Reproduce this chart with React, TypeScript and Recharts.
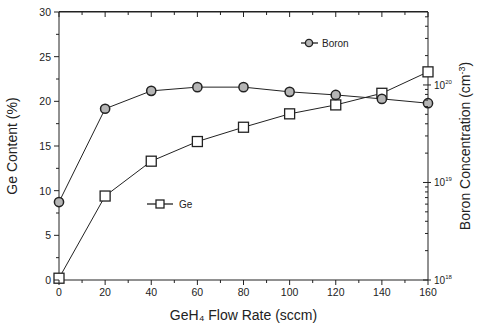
import { ComposedChart, Line, XAxis, YAxis } from 'recharts';

const flowRates = [0, 20, 40, 60, 80, 100, 120, 140, 160];
const geContent = [0.2, 9.4, 13.3, 15.5, 17.1, 18.6, 19.6, 20.9, 23.3];
const boronConc = [6.3e18, 5.7e19, 8.7e19, 9.5e19, 9.5e19, 8.5e19, 7.9e19, 7.2e19, 6.5e19];

const xTicks = [0, 10, 20, 30, 40, 50, 60, 70, 80, 90, 100, 110, 120, 130, 140, 150, 160];
const geTicks = [0, 2.5, 5, 7.5, 10, 12.5, 15, 17.5, 20, 22.5, 25, 27.5, 30];
const boronTicks = [
  1e18, 2e18, 3e18, 4e18, 5e18, 6e18, 7e18, 8e18, 9e18,
  1e19, 2e19, 3e19, 4e19, 5e19, 6e19, 7e19, 8e19, 9e19,
  1e20, 2e20, 3e20, 4e20, 5e20,
];

const data = flowRates.map((f, i) => ({ flow: f, ge: geContent[i], boron: boronConc[i] }));

const FONT = '"Liberation Sans", Arial, sans-serif';
const INK = '#222';

const W = 478;
const H = 330;
const M_TOP = 12;
const LEFT_W = 59;
const RIGHT_W = 50;
const BOTTOM_H = 50;
const PLOT_W = W - LEFT_W - RIGHT_W;
const PLOT_H = H - M_TOP - BOTTOM_H;

// bottom tick also draws the mirrored inward tick on the top frame
const BottomTick = ({ x, y, payload }: any) => {
  const major = payload.value % 20 === 0;
  const top = y - PLOT_H;
  return (
    <g>
      <line x1={x} x2={x} y1={y} y2={y + (major ? 5 : 3)} stroke={INK} />
      <line x1={x} x2={x} y1={top} y2={top + (major ? 5 : 3)} stroke={INK} />
      {major && (
        <text x={x} y={y + 16} textAnchor="middle" fontSize={10.5} fontFamily={FONT} fill={INK}>
          {payload.value}
        </text>
      )}
    </g>
  );
};

const LeftTick = ({ x, y, payload }: any) => {
  const major = payload.value % 5 === 0;
  return (
    <g>
      <line x1={x - (major ? 5 : 3)} x2={x} y1={y} y2={y} stroke={INK} />
      {payload.value === 30 && <line x1={x} x2={x + PLOT_W} y1={y} y2={y} stroke={INK} strokeWidth={1.2} />}
      {major && (
        <text x={x - 8} y={y + 4} textAnchor="end" fontSize={10.5} fontFamily={FONT} fill={INK}>
          {payload.value}
        </text>
      )}
    </g>
  );
};

const RightTick = ({ x, y, payload }: any) => {
  const exp = Math.log10(payload.value);
  const major = Math.abs(exp - Math.round(exp)) < 1e-6;
  return (
    <g>
      <line x1={x - (major ? 5 : 3)} x2={x + (major ? 3 : 0)} y1={y} y2={y} stroke={INK} />
      {major && (
        <text x={x + 6} y={y + 4} fontSize={10} fontFamily={FONT} fill={INK}>
          10
          <tspan dy={-5} fontSize={6}>{Math.round(exp)}</tspan>
        </text>
      )}
    </g>
  );
};

const RightLabel = ({ viewBox }: any) => {
  const cx = viewBox.x + viewBox.width - 8;
  const cy = viewBox.y + viewBox.height / 2;
  return (
    <text x={cx} y={cy} transform={`rotate(-90, ${cx}, ${cy})`} textAnchor="middle" fontSize={14} fontFamily={FONT} fill={INK}>
      Boron Concentration (cm
      <tspan dy={-5} fontSize={9}>-3</tspan>
      <tspan dy={5}>)</tspan>
    </text>
  );
};

const SquareDot = ({ cx, cy }: any) => (
  <rect x={cx - 5} y={cy - 5} width={10} height={10} fill="#fff" stroke={INK} strokeWidth={1.3} />
);

const CircleDot = ({ cx, cy }: any) => (
  <circle cx={cx} cy={cy} r={4.6} fill="#b5b5b5" stroke={INK} strokeWidth={1.5} />
);

const App = () => (
  <div style={{ position: 'absolute', left: 0, top: 0, width: W, height: H }}>
    <ComposedChart width={W} height={H} data={data} margin={{ top: M_TOP, right: 0, left: 0, bottom: 0 }}>
      <XAxis
        dataKey="flow"
        type="number"
        domain={[0, 160]}
        ticks={xTicks}
        interval={0}
        tick={<BottomTick />}
        tickSize={0}
        tickMargin={0}
        height={BOTTOM_H}
        stroke={INK}
        label={{ value: 'GeH₄ Flow Rate (sccm)', position: 'insideBottom', offset: 10, fontSize: 14, fontFamily: FONT, fill: INK }}
      />
      <YAxis
        yAxisId="ge"
        domain={[0, 30]}
        ticks={geTicks}
        interval={0}
        tick={<LeftTick />}
        tickSize={0}
        tickMargin={0}
        width={LEFT_W}
        stroke={INK}
        label={{ value: 'Ge Content (%)', angle: -90, position: 'insideLeft', offset: 12, fontSize: 14, fontFamily: FONT, fill: INK, style: { textAnchor: 'middle' } }}
      />
      <YAxis
        yAxisId="boron"
        orientation="right"
        scale="log"
        domain={[1e18, 5.6e20]}
        allowDataOverflow
        ticks={boronTicks}
        interval={0}
        tick={<RightTick />}
        tickSize={0}
        tickMargin={0}
        width={RIGHT_W}
        stroke={INK}
        label={<RightLabel />}
      />
      <Line
        yAxisId="ge"
        dataKey="ge"
        stroke={INK}
        strokeWidth={1}
        dot={<SquareDot />}
        isAnimationActive={false}
      />
      <Line
        yAxisId="boron"
        dataKey="boron"
        stroke={INK}
        strokeWidth={1}
        dot={<CircleDot />}
        isAnimationActive={false}
      />
    </ComposedChart>
    {/* top edge of the plot frame */}
    <div
      style={{
        position: 'absolute',
        left: LEFT_W,
        top: M_TOP - 1,
        width: PLOT_W,
        height: 0,
        borderTop: `1.5px solid ${INK}`,
        pointerEvents: 'none',
      }}
    />
    <div style={{ position: 'absolute', left: 301, top: 37, display: 'flex', alignItems: 'center', fontFamily: FONT, fontSize: 10, color: INK }}>
      <svg width={17} height={12}>
        <line x1={0} x2={17} y1={6} y2={6} stroke={INK} strokeWidth={1.3} />
        <circle cx={8} cy={6} r={3.6} fill="#b5b5b5" stroke={INK} strokeWidth={1.4} />
      </svg>
      <span style={{ marginLeft: 4 }}>Boron</span>
    </div>
    <div style={{ position: 'absolute', left: 147, top: 198, display: 'flex', alignItems: 'center', fontFamily: FONT, fontSize: 10, color: INK }}>
      <svg width={26} height={12}>
        <line x1={0} x2={26} y1={6} y2={6} stroke={INK} strokeWidth={1.3} />
        <rect x={9} y={2} width={8} height={8} fill="#fff" stroke={INK} strokeWidth={1.3} />
      </svg>
      <span style={{ marginLeft: 6 }}>Ge</span>
    </div>
  </div>
);

export default App;
